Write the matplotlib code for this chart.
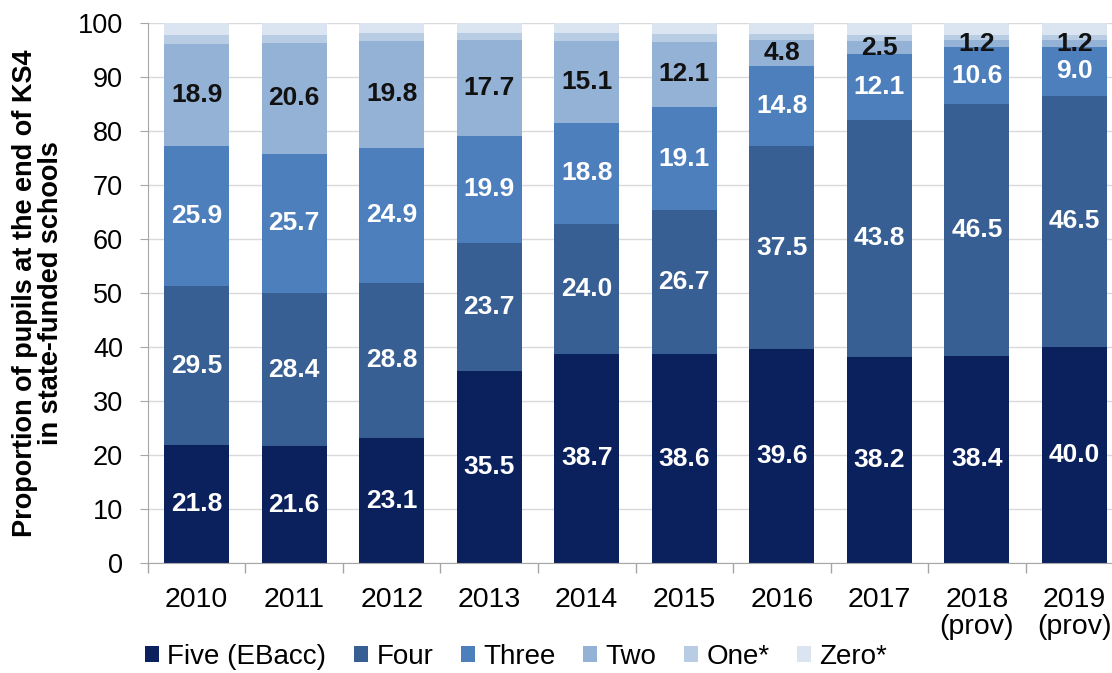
import numpy as np
import matplotlib.pyplot as plt

plt.rcParams['font.family'] = ['Liberation Sans', 'DejaVu Sans']

# data
years = ['2010', '2011', '2012', '2013', '2014', '2015', '2016', '2017',
         '2018\n(prov)', '2019\n(prov)']
five = [21.8, 21.6, 23.1, 35.5, 38.7, 38.6, 39.6, 38.2, 38.4, 40.0]
four = [29.5, 28.4, 28.8, 23.7, 24.0, 26.7, 37.5, 43.8, 46.5, 46.5]
three = [25.9, 25.7, 24.9, 19.9, 18.8, 19.1, 14.8, 12.1, 10.6, 9.0]
two = [18.9, 20.6, 19.8, 17.7, 15.1, 12.1, 4.8, 2.5, 1.2, 1.2]
one = [1.6, 1.4, 1.4, 1.2, 1.4, 1.4, 1.2, 1.2, 1.1, 1.1]
zero = [2.3, 2.3, 2.0, 2.0, 2.0, 2.1, 2.1, 2.2, 2.2, 2.2]

names = ['Five (EBacc)', 'Four', 'Three', 'Two', 'One*', 'Zero*']
series = [five, four, three, two, one, zero]
colors = ['#0b215e', '#385f93', '#4d7fbd', '#94b2d6', '#b8cce4', '#dbe5f1']
label_col = ['white', 'white', 'white', '#111111', None, None]

fig = plt.figure(figsize=(11.12, 6.73), dpi=100)
ax = fig.add_axes([0.133, 0.1634, 0.877, 0.803])

x = np.arange(len(years))
bottom = np.zeros(len(years))
for vals, name, col, lc in zip(series, names, colors, label_col):
    vals = np.array(vals)
    ax.bar(x, vals, width=0.667, bottom=bottom, color=col, label=name, zorder=2)
    if lc is not None:
        for xi, b, v in zip(x, bottom, vals):
            ax.text(xi, b + v / 2, f'{v:.1f}', ha='center', va='center',
                    color=lc, fontsize=19, fontweight='bold', zorder=3)
    bottom += vals

ax.set_xlim(-0.5, len(years) - 0.5)
ax.set_ylim(0, 100)
ax.set_yticks(np.arange(0, 101, 10))
ax.yaxis.grid(True, color='#d9d9d9', linewidth=1, zorder=0)
ax.set_axisbelow(True)

ax.set_xticks(x)
ax.set_xticklabels(years, fontsize=20.5, linespacing=1.05)
ax.set_xticks(np.arange(-0.5, len(years), 1), minor=True)
ax.tick_params(axis='x', which='major', length=0, pad=17)
ax.tick_params(axis='x', which='minor', length=7, color='#a6a6a6', width=1)
ax.tick_params(axis='y', labelsize=19.5, length=6, color='#a6a6a6', pad=12)

for s in ['top', 'right']:
    ax.spines[s].set_visible(False)
for s in ['left', 'bottom']:
    ax.spines[s].set_color('#a6a6a6')

ax.set_ylabel('Proportion of pupils at the end of KS4\nin state-funded schools',
              fontsize=19.5, fontweight='bold', linespacing=1.0, labelpad=10)

fig.legend(loc='lower left', bbox_to_anchor=(0.108, -0.033), ncol=6, frameon=False,
           fontsize=20, handlelength=0.5, handleheight=0.5, handletextpad=0.3,
           columnspacing=1.0)

fig.savefig('out.png', dpi=100)
